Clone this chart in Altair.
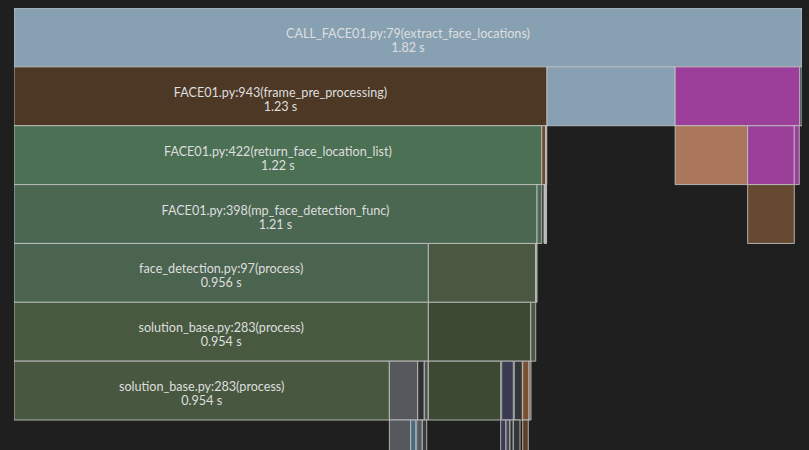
import altair as alt
import pandas as pd

# icicle nodes: depth (row), start time (s), duration (s), fill colour, label, time label
depths = [0,
          1, 1, 1, 1,
          2, 2, 2, 2, 2, 2,
          3, 3, 3, 3,
          4, 4, 4,
          5, 5, 5,
          6, 6, 6, 6, 6, 6, 6, 6, 6,
          7, 7, 7, 7, 7, 7, 7, 7, 7]
starts = [0.0,
          0.0, 1.231, 1.527, 1.815,
          0.0, 1.219, 1.228, 1.527, 1.6945, 1.8022,
          0.0, 1.208, 1.224, 1.6945,
          0.0, 0.957, 1.205,
          0.0, 0.957, 1.1935,
          0.0, 0.867, 0.9324, 0.9476, 0.957, 1.1264, 1.1555, 1.1749, 1.1895,
          0.867, 0.9162, 0.9301, 0.943, 1.1241, 1.1363, 1.1455, 1.1532, 1.1749]
durations = [1.82,
             1.231, 0.296, 0.288, 0.005,
             1.219, 0.009, 0.0025, 0.1675, 0.1077, 0.0115,
             1.208, 0.011, 0.006, 0.1077,
             0.957, 0.248, 0.003,
             0.957, 0.2365, 0.0115,
             0.867, 0.0654, 0.0152, 0.0092, 0.167, 0.0268, 0.0185, 0.0146, 0.0046,
             0.0494, 0.0115, 0.0129, 0.0102, 0.0122, 0.0092, 0.0076, 0.0155, 0.0129]
colors = ["#87a1b3",
          "#4d3826", "#87a1b3", "#9b3f9b", "#2d3d47",
          "#4c7054", "#6e4a30", "#b0b0b0", "#ab775c", "#9b3f9b", "#9b3f9b",
          "#4b6651", "#4c6a52", "#b8b8b8", "#654930",
          "#4b6450", "#4a5841", "#9a9a9a",
          "#475a40", "#3b4832", "#4a5841",
          "#485840", "#55585c", "#2e3032", "#505355", "#3c4a33", "#3a3a50", "#333537", "#7a5033", "#6a5a50",
          "#55585c", "#4a6a80", "#55585c", "#3a3c3e", "#3a3a50", "#444650", "#2e3032", "#333537", "#5a4028"]
names = ["CALL_FACE01.py:79(extract_face_locations)",
         "FACE01.py:943(frame_pre_processing)", "", "", "",
         "FACE01.py:422(return_face_location_list)", "", "", "", "", "",
         "FACE01.py:398(mp_face_detection_func)", "", "", "",
         "face_detection.py:97(process)", "", "",
         "solution_base.py:283(process)", "", "",
         "solution_base.py:283(process)", "", "", "", "", "", "", "", "",
         "", "", "", "", "", "", "", "", ""]
times = ["1.82 s",
         "1.23 s", "", "", "",
         "1.22 s", "", "", "", "", "",
         "1.21 s", "", "", "",
         "0.956 s", "", "",
         "0.954 s", "", "",
         "0.954 s", "", "", "", "", "", "", "", "",
         "", "", "", "", "", "", "", "", ""]

df = pd.DataFrame({"depth": depths, "start": starts, "dur": durations,
                   "color": colors, "name": names, "time": times})

XMAX = 1.82
YMAX = 442 / 58.86

xs = alt.Scale(domain=[0, XMAX], nice=False, zero=False)
ys = alt.Scale(domain=[0, YMAX], nice=False, zero=False, reverse=True)

base = alt.Chart(df).transform_calculate(
    end="datum.start + datum.dur",
    d2="datum.depth + 1",
    mid="datum.start + datum.dur / 2",
    ymid="datum.depth + 0.5",
)

rects = base.mark_rect(stroke="#c4c6c6", strokeWidth=1, strokeOpacity=0.85, clip=True).encode(
    x=alt.X("start:Q", scale=xs, axis=None),
    x2="end:Q",
    y=alt.Y("depth:Q", scale=ys, axis=None),
    y2="d2:Q",
    fill=alt.Fill("color:N", scale=None),
)

txt1 = base.transform_filter("datum.name != ''").mark_text(
    font="Lato", fontSize=12.6, color="#dedede", baseline="alphabetic", dy=0.5
).encode(
    x=alt.X("mid:Q", scale=xs, axis=None),
    y=alt.Y("ymid:Q", scale=ys, axis=None),
    text="name:N",
)

txt2 = base.transform_filter("datum.name != ''").mark_text(
    font="Lato", fontSize=12.6, color="#dedede", baseline="alphabetic", dy=14.5
).encode(
    x=alt.X("mid:Q", scale=xs, axis=None),
    y=alt.Y("ymid:Q", scale=ys, axis=None),
    text="time:N",
)

chart = alt.layer(rects, txt1, txt2).properties(
    width=788, height=442,
    autosize=alt.AutoSizeParams(type="none"),
    padding={"left": 14, "top": 8, "right": 7, "bottom": 0},
    background="#1e1f1e",
).configure_view(stroke=None)

chart.save("out.html", embed_options={"renderer": "svg", "actions": False})
